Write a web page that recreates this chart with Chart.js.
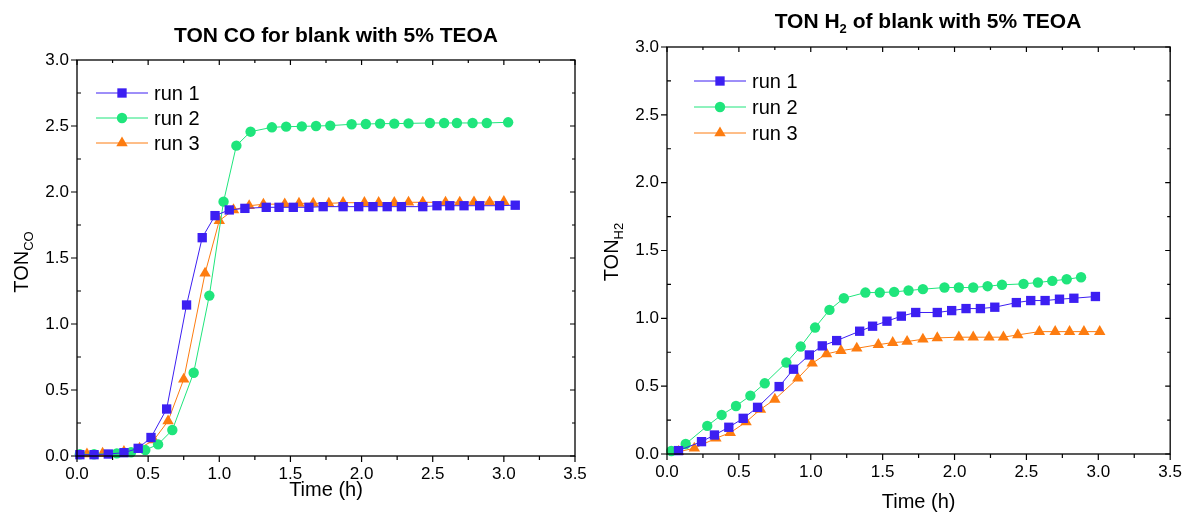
<!DOCTYPE html>
<html>
<head>
<meta charset="utf-8">
<script src="https://cdn.jsdelivr.net/npm/chart.js@4.4.1/dist/chart.umd.min.js"></script>
<style>
  html, body { margin: 0; padding: 0; background: #fff; }
  #wrap { position: relative; width: 1190px; height: 517px; }
  canvas { position: absolute; top: 0; }
</style>
</head>
<body>
<div id="wrap">
  <canvas id="co" width="600" height="517" style="left:0px"></canvas>
  <canvas id="h2" width="590" height="517" style="left:600px"></canvas>
</div>
<script>
// TON CO, time (h) and values per run
var coTime1 = [0.02,0.12,0.22,0.33,0.43,0.52,0.63,0.77,0.88,0.97,1.07,1.18,1.33,1.42,1.52,1.63,1.73,1.87,1.98,2.08,2.18,2.28,2.43,2.53,2.62,2.72,2.83,2.97,3.08];
var coRun1  = [0.01,0.01,0.015,0.025,0.058,0.14,0.356,1.144,1.654,1.821,1.864,1.876,1.884,1.884,1.884,1.884,1.889,1.889,1.889,1.889,1.889,1.889,1.889,1.896,1.896,1.896,1.896,1.896,1.90];
var coTime2 = [0.02,0.12,0.28,0.38,0.48,0.57,0.67,0.82,0.93,1.03,1.12,1.22,1.37,1.47,1.58,1.68,1.78,1.93,2.03,2.13,2.23,2.33,2.48,2.58,2.67,2.78,2.88,3.03];
var coRun2  = [0.013,0.013,0.02,0.028,0.045,0.088,0.197,0.631,1.215,1.927,2.351,2.457,2.49,2.495,2.497,2.5,2.503,2.513,2.515,2.518,2.518,2.52,2.523,2.523,2.523,2.523,2.523,2.528];
var coTime3 = [0.07,0.18,0.33,0.44,0.54,0.64,0.75,0.9,1.0,1.1,1.21,1.31,1.46,1.56,1.66,1.77,1.87,2.02,2.12,2.23,2.33,2.43,2.59,2.69,2.79,2.9,3.0];
var coRun3  = [0.015,0.02,0.033,0.058,0.121,0.265,0.581,1.384,1.783,1.864,1.896,1.907,1.909,1.914,1.914,1.914,1.919,1.919,1.919,1.919,1.922,1.922,1.922,1.922,1.924,1.924,1.927];

// TON H2
var h2Time1 = [0.08,0.24,0.33,0.43,0.53,0.63,0.78,0.88,0.99,1.08,1.18,1.34,1.43,1.53,1.63,1.73,1.88,1.98,2.08,2.18,2.28,2.43,2.53,2.63,2.73,2.83,2.98];
var h2Run1  = [0.025,0.091,0.14,0.197,0.263,0.344,0.497,0.625,0.73,0.797,0.836,0.905,0.942,0.979,1.016,1.043,1.043,1.057,1.072,1.072,1.082,1.116,1.131,1.131,1.141,1.148,1.161];
var h2Time2 = [0.03,0.13,0.28,0.38,0.48,0.58,0.68,0.83,0.93,1.03,1.13,1.23,1.38,1.48,1.58,1.68,1.78,1.93,2.03,2.13,2.23,2.33,2.48,2.58,2.68,2.78,2.88];
var h2Run2  = [0.022,0.074,0.207,0.288,0.354,0.43,0.521,0.674,0.792,0.932,1.062,1.148,1.19,1.19,1.195,1.205,1.215,1.227,1.227,1.227,1.237,1.247,1.254,1.264,1.276,1.288,1.303];
var h2Time3 = [0.08,0.19,0.34,0.44,0.55,0.65,0.75,0.91,1.01,1.11,1.21,1.32,1.47,1.57,1.67,1.78,1.88,2.03,2.13,2.24,2.34,2.44,2.59,2.7,2.8,2.9,3.01];
var h2Run3  = [0.017,0.042,0.116,0.157,0.236,0.329,0.403,0.558,0.669,0.738,0.762,0.779,0.806,0.821,0.829,0.846,0.856,0.861,0.861,0.861,0.861,0.878,0.902,0.902,0.902,0.902,0.902];

var runLabels = ['run 1', 'run 2', 'run 3'];
var FONT = 'Arial, "Liberation Sans", sans-serif';

Chart.defaults.font.family = FONT;
Chart.defaults.color = '#000';

function pts(t, v) {
    return t.map(function (x, i) { return {x: x, y: v[i]}; });
}

// text with subscript parts, centred on cx, baseline cy
function drawRich(ctx, parts, cx, cy, size, weight) {
    var sub = Math.round(size * 0.64);
    var w = 0;
    parts.forEach(function (p) {
        ctx.font = weight + ' ' + (p.sub ? sub : size) + 'px ' + FONT;
        p.w = ctx.measureText(p.t).width;
        w += p.w;
    });
    var x = cx - w / 2;
    ctx.textAlign = 'left';
    ctx.textBaseline = 'alphabetic';
    parts.forEach(function (p) {
        ctx.font = weight + ' ' + (p.sub ? sub : size) + 'px ' + FONT;
        ctx.fillText(p.t, x, cy + (p.sub ? size * 0.25 : 0));
        x += p.w;
    });
}

var decor = {
    id: 'decor',
    afterDraw: function (chart, args, o) {
        var ctx = chart.ctx, a = chart.chartArea;
        var sx = chart.scales.x, sy = chart.scales.y;
        ctx.save();
        ctx.fillStyle = '#000';
        ctx.strokeStyle = '#000';
        ctx.lineWidth = 1.3;
        ctx.strokeRect(a.left, a.top, a.right - a.left, a.bottom - a.top);

        ctx.lineWidth = 1.2;
        ctx.beginPath();
        var i, v, p, major;
        for (i = 0; i <= 14; i++) {
            v = i * 0.25;
            p = sx.getPixelForValue(v);
            major = i % 2 === 0;
            ctx.moveTo(p, a.bottom); ctx.lineTo(p, a.bottom + (major ? 6 : 4));
            ctx.moveTo(p, a.top); ctx.lineTo(p, a.top + (major ? 5 : 3));
        }
        for (i = 0; i <= 12; i++) {
            v = i * 0.25;
            p = sy.getPixelForValue(v);
            major = i % 2 === 0;
            if (major) { ctx.moveTo(a.left - 6, p); ctx.lineTo(a.left, p); }
            else { ctx.moveTo(a.left, p); ctx.lineTo(a.left + 4, p); }
            ctx.moveTo(a.right, p); ctx.lineTo(a.right - (major ? 5 : 3), p);
        }
        ctx.stroke();

        drawRich(ctx, o.title, o.titleX, o.titleY, 21, 'bold');

        ctx.save();
        ctx.translate(o.ylabX, o.ylabY);
        ctx.rotate(-Math.PI / 2);
        drawRich(ctx, o.ylab, 0, 0, 20, 'normal');
        ctx.restore();

        // legend: line with marker, then label
        chart.data.datasets.forEach(function (ds, k) {
            var ry = o.legY + k * o.legGap;
            ctx.strokeStyle = ds.borderColor;
            ctx.fillStyle = ds.backgroundColor;
            ctx.lineWidth = 1;
            ctx.beginPath();
            ctx.moveTo(o.legX, ry); ctx.lineTo(o.legX + 52, ry);
            ctx.stroke();
            Chart.helpers.drawPoint(ctx, {pointStyle: ds.pointStyle, radius: ds.pointRadius, rotation: 0, borderWidth: 0}, o.legX + 26, ry);
            ctx.fillStyle = '#000';
            ctx.font = '20px ' + FONT;
            ctx.textAlign = 'left';
            ctx.textBaseline = 'middle';
            ctx.fillText(ds.label, o.legX + 58, ry + 1);
        });
        ctx.restore();
    }
};

function makeSets(t1, v1, t2, v2, t3, v3) {
    return [
        {label: runLabels[0], data: pts(t1, v1), borderColor: '#3c1ff2', backgroundColor: '#3c1ff2', pointStyle: 'rect', pointRadius: 6.6},
        {label: runLabels[1], data: pts(t2, v2), borderColor: '#1fe57c', backgroundColor: '#1fe57c', pointStyle: 'circle', pointRadius: 5.2},
        {label: runLabels[2], data: pts(t3, v3), borderColor: '#fd7c10', backgroundColor: '#fd7c10', pointStyle: 'triangle', pointRadius: 6.6}
    ].map(function (d) {
        d.borderWidth = 1;
        d.pointBorderWidth = 0;
        d.pointHoverRadius = d.pointRadius;
        d.tension = 0;
        d.clip = false;
        return d;
    });
}

function makeOptions(pad, yWidth, xHeight, xTitlePad, decorOpts) {
    return {
        responsive: false,
        animation: false,
        layout: {padding: pad},
        plugins: {
            legend: {display: false},
            tooltip: {enabled: false},
            decor: decorOpts
        },
        scales: {
            x: {
                type: 'linear', min: 0, max: 3.5,
                grid: {display: false, drawTicks: false},
                border: {display: false},
                ticks: {stepSize: 0.5, padding: 8, font: {size: 17}, maxRotation: 0, autoSkip: false,
                    callback: function (v) { return v.toFixed(1); }},
                title: {display: true, text: 'Time (h)', font: {size: 20}, padding: {top: 0, bottom: xTitlePad}},
                afterFit: function (s) { s.height = xHeight; }
            },
            y: {
                min: 0, max: 3,
                grid: {display: false, drawTicks: false},
                border: {display: false},
                ticks: {stepSize: 0.5, padding: 8, font: {size: 17},
                    callback: function (v) { return v.toFixed(1); }},
                afterFit: function (s) { s.width = yWidth; }
            }
        }
    };
}

new Chart(document.getElementById('co').getContext('2d'), {
    type: 'line',
    data: {datasets: makeSets(coTime1, coRun1, coTime2, coRun2, coTime3, coRun3)},
    options: makeOptions({top: 60, left: 0, right: 25, bottom: 0}, 77, 61, 15, {
        title: [{t: 'TON CO for blank with 5% TEOA'}],
        titleX: 336, titleY: 42,
        ylab: [{t: 'TON'}, {t: 'CO', sub: true}],
        ylabX: 28, ylabY: 262,
        legX: 96, legY: 93, legGap: 25
    }),
    plugins: [decor]
});

new Chart(document.getElementById('h2').getContext('2d'), {
    type: 'line',
    data: {datasets: makeSets(h2Time1, h2Run1, h2Time2, h2Run2, h2Time3, h2Run3)},
    options: makeOptions({top: 47, left: 0, right: 14, bottom: 0}, 67, 63, 3, {
        title: [{t: 'TON H'}, {t: '2', sub: true}, {t: ' of blank with 5% TEOA'}],
        titleX: 328, titleY: 28,
        ylab: [{t: 'TON'}, {t: 'H2', sub: true}],
        ylabX: 18, ylabY: 252,
        legX: 94, legY: 81, legGap: 26
    }),
    plugins: [decor]
});
</script>
</body>
</html>
